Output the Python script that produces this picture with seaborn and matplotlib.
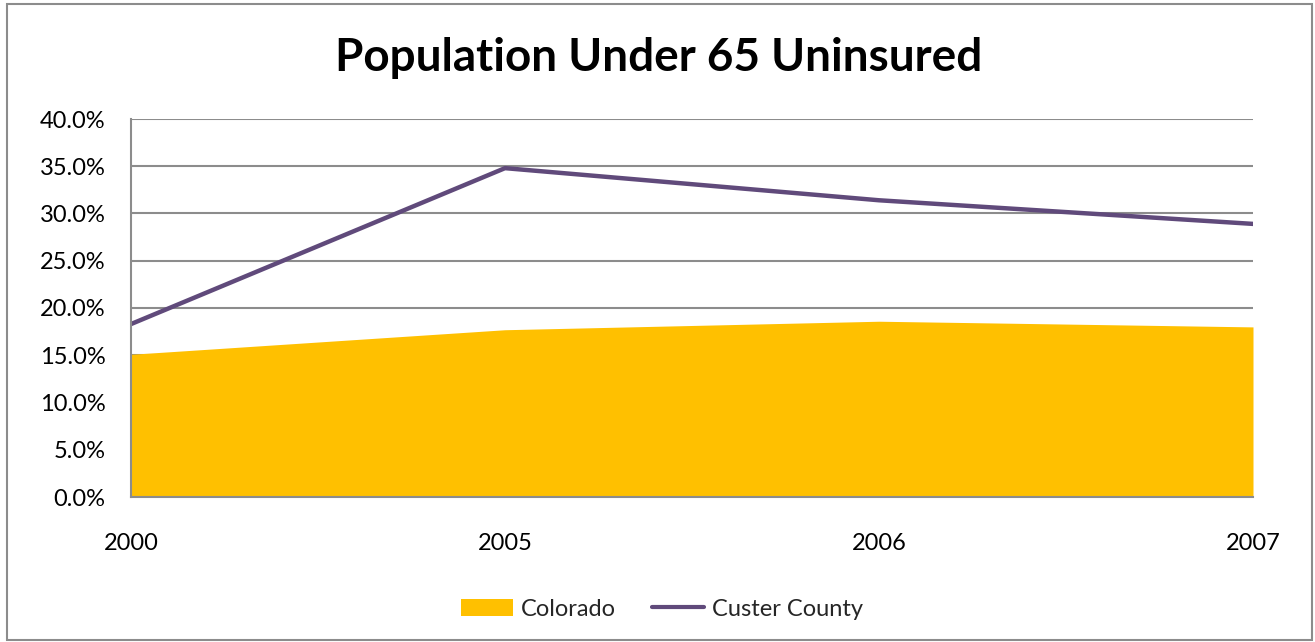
import matplotlib
matplotlib.use("Agg")
import matplotlib.pyplot as plt
import seaborn as sns
import pandas as pd
import numpy as np
from matplotlib.patches import Rectangle, Patch
from matplotlib.lines import Line2D
from matplotlib.ticker import FuncFormatter, MultipleLocator

# podaci
years = ["2000", "2005", "2006", "2007"]
colorado = [15.1, 17.7, 18.6, 18.0]
custer = [18.3, 34.8, 31.4, 28.9]

sns.set_style("white")
plt.rcParams['font.family'] = ['Lato', 'DejaVu Sans']

df = pd.DataFrame({"pos": np.arange(len(years)), "Colorado": colorado, "Custer County": custer})

fig = plt.figure(figsize=(13.15, 6.42), dpi=100)
ax = fig.add_axes([131 / 1315, 1 - 497 / 642, (1253 - 131) / 1315, (497 - 119) / 642])

ax.fill_between(df["pos"], 0, df["Colorado"], color="#FFC000", linewidth=0, zorder=2)
sns.lineplot(data=df, x="pos", y="Custer County", color="#604A7B", linewidth=3.2, ax=ax, zorder=3)

ax.set_xlim(0, len(years) - 1)
ax.set_ylim(0, 40)
ax.yaxis.set_major_locator(MultipleLocator(5))
ax.yaxis.set_major_formatter(FuncFormatter(lambda v, p: f"{v:.1f}%"))
ax.set_xticks(df["pos"])
ax.set_xticklabels(years)
ax.tick_params(axis="x", pad=26, labelsize=17, length=0, labelcolor="black")
ax.tick_params(axis="y", pad=18.5, labelsize=17, length=0, labelcolor="black")
ax.set_xlabel("")
ax.set_ylabel("")
ax.grid(axis="y", color="#8C8C8C", linewidth=1.5, zorder=1)
for s in ["top", "right"]:
    ax.spines[s].set_visible(False)
for s in ["left", "bottom"]:
    ax.spines[s].set_color("#8C8C8C")
    ax.spines[s].set_linewidth(1.5)
    ax.spines[s].set_zorder(4)

fig.text(659 / 1315, 1 - 58 / 642, "Population Under 65 Uninsured", ha="center", va="center",
         fontsize=33, fontweight="bold", color="black")

handles = [Patch(facecolor="#FFC000", edgecolor="none"),
           Line2D([], [], color="#604A7B", linewidth=3)]
fig.legend(handles, ["Colorado", "Custer County"], loc="center", bbox_to_anchor=(662 / 1315, 1 - 609 / 642),
           ncol=2, frameon=False, fontsize=17, handlelength=2.2, handleheight=0.7, columnspacing=1.5,
           handletextpad=0.35)

fig.patches.append(Rectangle((7 / 1315, 2 / 642), 1305 / 1315, 636 / 642, transform=fig.transFigure,
                             fill=False, edgecolor="#8C8C8C", linewidth=1.5))

fig.savefig("out.png", dpi=100)
